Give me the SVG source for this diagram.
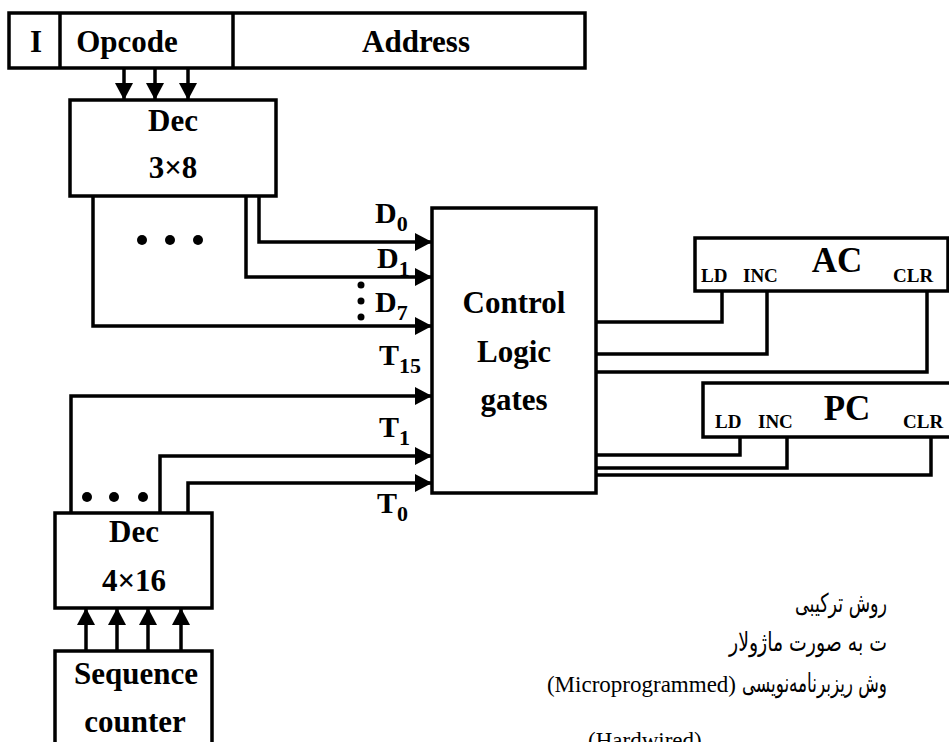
<svg xmlns="http://www.w3.org/2000/svg" width="949" height="742" viewBox="0 0 949 742">
<defs>
<style>
.box{fill:#fff;stroke:#000;stroke-width:3.5}
.w{fill:none;stroke:#000;stroke-width:3.5}
.b{font-family:"Liberation Serif","Times New Roman",serif;font-weight:bold;fill:#000}
.t30{font-size:31px}
.sm{font-size:19px}
.lab{font-size:30px}
.sub{font-size:22px}
.fa{font-family:"DejaVu Sans",sans-serif;font-size:26px;fill:#000}
.en{font-family:"Liberation Serif","Times New Roman",serif;font-size:23px;fill:#000}
</style>
<marker id="ah" markerUnits="userSpaceOnUse" markerWidth="18" markerHeight="18" refX="17" refY="9" orient="auto">
<path d="M0,0 L17,9 L0,18 Z" fill="#000"/>
</marker>
</defs>
<rect width="949" height="742" fill="#fff"/>

<g id="instruction-register">
<rect class="box" x="9" y="13" width="576" height="55"/>
<line class="w" x1="60" y1="13" x2="60" y2="68"/>
<line class="w" x1="233" y1="13" x2="233" y2="68"/>
<text class="b t30" x="36" y="52" text-anchor="middle">I</text>
<text class="b t30" x="127" y="52" text-anchor="middle">Opcode</text>
<text class="b t30" x="416" y="52" text-anchor="middle">Address</text>
</g>

<g id="dec-3x8">
<rect class="box" x="70" y="100" width="206" height="96"/>
<text class="b t30" x="173" y="131" text-anchor="middle">Dec</text>
<text class="b t30" x="173" y="178" text-anchor="middle">3×8</text>
</g>

<g id="control-logic">
<rect class="box" x="432" y="208" width="164" height="285"/>
<text class="b t30" x="514" y="313" text-anchor="middle">Control</text>
<text class="b t30" x="514" y="362" text-anchor="middle">Logic</text>
<text class="b t30" x="514" y="410" text-anchor="middle">gates</text>
</g>

<g id="dec-4x16">
<rect class="box" x="55" y="513" width="157" height="95"/>
<text class="b t30" x="134" y="542" text-anchor="middle">Dec</text>
<text class="b t30" x="134" y="591" text-anchor="middle">4×16</text>
</g>

<g id="sequence-counter">
<rect class="box" x="55" y="651" width="157" height="110"/>
<text class="b t30" x="136" y="684" text-anchor="middle">Sequence</text>
<text class="b t30" x="135" y="732" text-anchor="middle">counter</text>
</g>

<g id="ac">
<rect class="box" x="695" y="238" width="253" height="53"/>
<text class="b" font-size="35" x="837" y="272" text-anchor="middle">AC</text>
<text class="b sm" x="701" y="282">LD</text>
<text class="b sm" x="743" y="282">INC</text>
<text class="b sm" x="893" y="282">CLR</text>
</g>

<g id="pc">
<rect class="box" x="703" y="383" width="260" height="54"/>
<text class="b" font-size="35" x="847" y="420" text-anchor="middle">PC</text>
<text class="b sm" x="715" y="428">LD</text>
<text class="b sm" x="758" y="428">INC</text>
<text class="b sm" x="903" y="428">CLR</text>
</g>

<g id="connectors">
<line class="w" x1="124" y1="68" x2="124" y2="100" marker-end="url(#ah)"/>
<line class="w" x1="155" y1="68" x2="155" y2="100" marker-end="url(#ah)"/>
<line class="w" x1="188" y1="68" x2="188" y2="100" marker-end="url(#ah)"/>

<polyline class="w" points="259,196 259,242 432,242" marker-end="url(#ah)"/>
<polyline class="w" points="246,196 246,277 432,277" marker-end="url(#ah)"/>
<polyline class="w" points="93,196 93,326 432,326" marker-end="url(#ah)"/>

<polyline class="w" points="71,513 71,396 432,396" marker-end="url(#ah)"/>
<polyline class="w" points="160,513 160,456 432,456" marker-end="url(#ah)"/>
<polyline class="w" points="188,513 188,483 432,483" marker-end="url(#ah)"/>

<line class="w" x1="86" y1="651" x2="86" y2="608" marker-end="url(#ah)"/>
<line class="w" x1="117" y1="651" x2="117" y2="608" marker-end="url(#ah)"/>
<line class="w" x1="148" y1="651" x2="148" y2="608" marker-end="url(#ah)"/>
<line class="w" x1="181" y1="651" x2="181" y2="608" marker-end="url(#ah)"/>

<polyline class="w" points="722,291 722,322 596,322"/>
<polyline class="w" points="767,291 767,354 596,354"/>
<polyline class="w" points="927,291 927,372 596,372"/>
<polyline class="w" points="740,437 740,455 596,455"/>
<polyline class="w" points="787,437 787,468 596,468"/>
<polyline class="w" points="931,437 931,475 596,475"/>
</g>

<g id="ellipsis" fill="#000">
<circle cx="142" cy="240" r="5"/>
<circle cx="170" cy="240" r="5"/>
<circle cx="198" cy="240" r="5"/>
<circle cx="87" cy="497" r="5"/>
<circle cx="114" cy="497" r="5"/>
<circle cx="143" cy="497" r="5"/>
<circle cx="361" cy="285" r="3.5"/>
<circle cx="361" cy="301" r="3.5"/>
<circle cx="361" cy="317" r="3.5"/>
</g>

<g id="signal-labels">
<text class="b lab" x="375" y="223">D<tspan class="sub" dy="8">0</tspan></text>
<text class="b lab" x="377" y="268">D<tspan class="sub" dy="8">1</tspan></text>
<text class="b lab" x="375" y="312">D<tspan class="sub" dy="8">7</tspan></text>
<text class="b lab" x="379" y="365">T<tspan class="sub" dy="8">15</tspan></text>
<text class="b lab" x="379" y="437">T<tspan class="sub" dy="8">1</tspan></text>
<text class="b lab" x="377" y="513">T<tspan class="sub" dy="8">0</tspan></text>
</g>

<g id="notes">
<text class="fa" x="795" y="612" textLength="92" lengthAdjust="spacingAndGlyphs">روش ترکیبی</text>
<text class="fa" x="729" y="651" textLength="158" lengthAdjust="spacingAndGlyphs">ت به صورت ماژولار</text>
<text class="fa" x="742" y="692" textLength="145" lengthAdjust="spacingAndGlyphs">وش ریزبرنامه‌نویسی</text>
<text class="en" x="736" y="692" text-anchor="end">(Microprogrammed)</text>
<text class="en" x="588" y="748">(Hardwired)</text>
</g>
</svg>
